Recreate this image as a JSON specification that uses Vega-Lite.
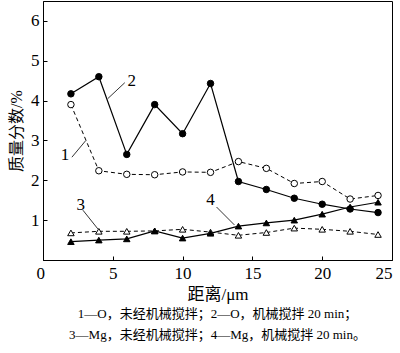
{
  "$schema": "https://vega.github.io/schema/vega-lite/v6.json",
  "width": 349,
  "height": 259,
  "autosize": {"type": "none"},
  "padding": {"left": 43, "top": 1, "right": 8, "bottom": 93},
  "background": "white",
  "config": {
    "view": {"stroke": "black", "strokeWidth": 1},
    "font": "Liberation Serif, Noto Sans CJK SC",
    "axis": {
      "domainColor": "black",
      "tickColor": "black",
      "labelColor": "black",
      "titleColor": "black",
      "grid": false,
      "labelFont": "Liberation Serif",
      "labelFontSize": 17,
      "titleFont": "Liberation Serif, Noto Sans CJK SC",
      "titleFontSize": 16,
      "titleFontWeight": "normal"
    }
  },
  "title": {
    "text": ["1—O，未经机械搅拌；2—O，机械搅拌 20 min；", "3—Mg，未经机械搅拌；4—Mg，机械搅拌 20 min。"],
    "orient": "bottom",
    "anchor": "middle",
    "font": "Liberation Serif, Noto Sans CJK SC",
    "fontSize": 13,
    "fontWeight": "normal",
    "lineHeight": 21,
    "offset": 6,
    "color": "black"
  },
  "datasets": {
    "pts": [
      {"x": 2, "y": 3.9, "s": "1"}, {"x": 4, "y": 2.24, "s": "1"}, {"x": 6, "y": 2.15, "s": "1"}, {"x": 8, "y": 2.14, "s": "1"}, {"x": 10, "y": 2.21, "s": "1"}, {"x": 12, "y": 2.2, "s": "1"}, {"x": 14, "y": 2.47, "s": "1"}, {"x": 16, "y": 2.3, "s": "1"}, {"x": 18, "y": 1.92, "s": "1"}, {"x": 20, "y": 1.97, "s": "1"}, {"x": 22, "y": 1.53, "s": "1"}, {"x": 24, "y": 1.62, "s": "1"},
      {"x": 2, "y": 4.17, "s": "2"}, {"x": 4, "y": 4.6, "s": "2"}, {"x": 6, "y": 2.65, "s": "2"}, {"x": 8, "y": 3.9, "s": "2"}, {"x": 10, "y": 3.17, "s": "2"}, {"x": 12, "y": 4.43, "s": "2"}, {"x": 14, "y": 1.97, "s": "2"}, {"x": 16, "y": 1.77, "s": "2"}, {"x": 18, "y": 1.55, "s": "2"}, {"x": 20, "y": 1.4, "s": "2"}, {"x": 22, "y": 1.28, "s": "2"}, {"x": 24, "y": 1.19, "s": "2"},
      {"x": 2, "y": 0.68, "s": "3"}, {"x": 4, "y": 0.72, "s": "3"}, {"x": 6, "y": 0.72, "s": "3"}, {"x": 8, "y": 0.73, "s": "3"}, {"x": 10, "y": 0.77, "s": "3"}, {"x": 12, "y": 0.7, "s": "3"}, {"x": 14, "y": 0.62, "s": "3"}, {"x": 16, "y": 0.69, "s": "3"}, {"x": 18, "y": 0.8, "s": "3"}, {"x": 20, "y": 0.77, "s": "3"}, {"x": 22, "y": 0.72, "s": "3"}, {"x": 24, "y": 0.64, "s": "3"},
      {"x": 2, "y": 0.46, "s": "4"}, {"x": 4, "y": 0.5, "s": "4"}, {"x": 6, "y": 0.53, "s": "4"}, {"x": 8, "y": 0.73, "s": "4"}, {"x": 10, "y": 0.55, "s": "4"}, {"x": 12, "y": 0.67, "s": "4"}, {"x": 14, "y": 0.85, "s": "4"}, {"x": 16, "y": 0.93, "s": "4"}, {"x": 18, "y": 1.0, "s": "4"}, {"x": 20, "y": 1.15, "s": "4"}, {"x": 22, "y": 1.33, "s": "4"}, {"x": 24, "y": 1.45, "s": "4"}
    ],
    "lead": [
      {"id": "1", "o": 0, "x": 2.07, "y": 2.58}, {"id": "1", "o": 1, "x": 3.07, "y": 3.0},
      {"id": "2", "o": 0, "x": 4.64, "y": 4.05}, {"id": "2", "o": 1, "x": 5.86, "y": 4.45},
      {"id": "3", "o": 0, "x": 2.86, "y": 1.25}, {"id": "3", "o": 1, "x": 3.93, "y": 0.78},
      {"id": "4", "o": 0, "x": 12.43, "y": 1.33}, {"id": "4", "o": 1, "x": 13.71, "y": 0.88}
    ],
    "labs": [
      {"t": "1", "x": 1.57, "y": 2.63},
      {"t": "2", "x": 6.36, "y": 4.48},
      {"t": "3", "x": 2.71, "y": 1.38},
      {"t": "4", "x": 12.0, "y": 1.5}
    ]
  },
  "layer": [
    {
      "data": {"name": "pts"},
      "transform": [{"filter": "datum.s == '1' || datum.s == '3'"}],
      "mark": {"type": "line", "color": "black", "strokeWidth": 1, "strokeDash": [4, 3]},
      "encoding": {
        "x": {"field": "x", "type": "quantitative", "scale": {"domain": [0, 25], "nice": false},
          "axis": {"values": [0, 5, 10, 15, 20, 25], "tickSize": -4, "labelPadding": 9, "labelFont": "Liberation Serif", "labelFontSize": 17, "title": "距离/μm", "titleFontSize": 17, "titlePadding": 5,
            "labelOffset": {"condition": {"test": "datum.value == 0", "value": -7}, "value": 0}}},
        "y": {"field": "y", "type": "quantitative", "scale": {"domain": [0, 6.5], "nice": false},
          "axis": {"values": [1, 2, 3, 4, 5, 6], "tickSize": -4, "labelPadding": 8, "labelFont": "Liberation Serif", "labelFontSize": 17, "title": "质量分数/%", "titlePadding": 6}},
        "detail": {"field": "s"}
      }
    },
    {
      "data": {"name": "pts"},
      "transform": [{"filter": "datum.s == '2' || datum.s == '4'"}],
      "mark": {"type": "line", "color": "black", "strokeWidth": 1.2},
      "encoding": {
        "x": {"field": "x", "type": "quantitative"},
        "y": {"field": "y", "type": "quantitative"},
        "detail": {"field": "s"}
      }
    },
    {
      "data": {"name": "lead"},
      "mark": {"type": "line", "color": "black", "strokeWidth": 0.8},
      "encoding": {
        "x": {"field": "x", "type": "quantitative"},
        "y": {"field": "y", "type": "quantitative"},
        "detail": {"field": "id"},
        "order": {"field": "o"}
      }
    },
    {
      "data": {"name": "pts"},
      "mark": {"type": "point", "filled": true, "stroke": "black", "strokeWidth": 1, "size": 42, "opacity": 1},
      "encoding": {
        "x": {"field": "x", "type": "quantitative"},
        "y": {"field": "y", "type": "quantitative"},
        "shape": {"field": "s", "type": "nominal", "scale": {"domain": ["1", "2", "3", "4"], "range": ["circle", "circle", "triangle-up", "triangle-up"]}, "legend": null},
        "fill": {"field": "s", "type": "nominal", "scale": {"domain": ["1", "2", "3", "4"], "range": ["white", "black", "white", "black"]}, "legend": null}
      }
    },
    {
      "data": {"name": "labs"},
      "mark": {"type": "text", "font": "Liberation Serif", "fontSize": 17, "color": "black", "align": "center", "baseline": "middle"},
      "encoding": {
        "x": {"field": "x", "type": "quantitative"},
        "y": {"field": "y", "type": "quantitative"},
        "text": {"field": "t"}
      }
    }
  ]
}
